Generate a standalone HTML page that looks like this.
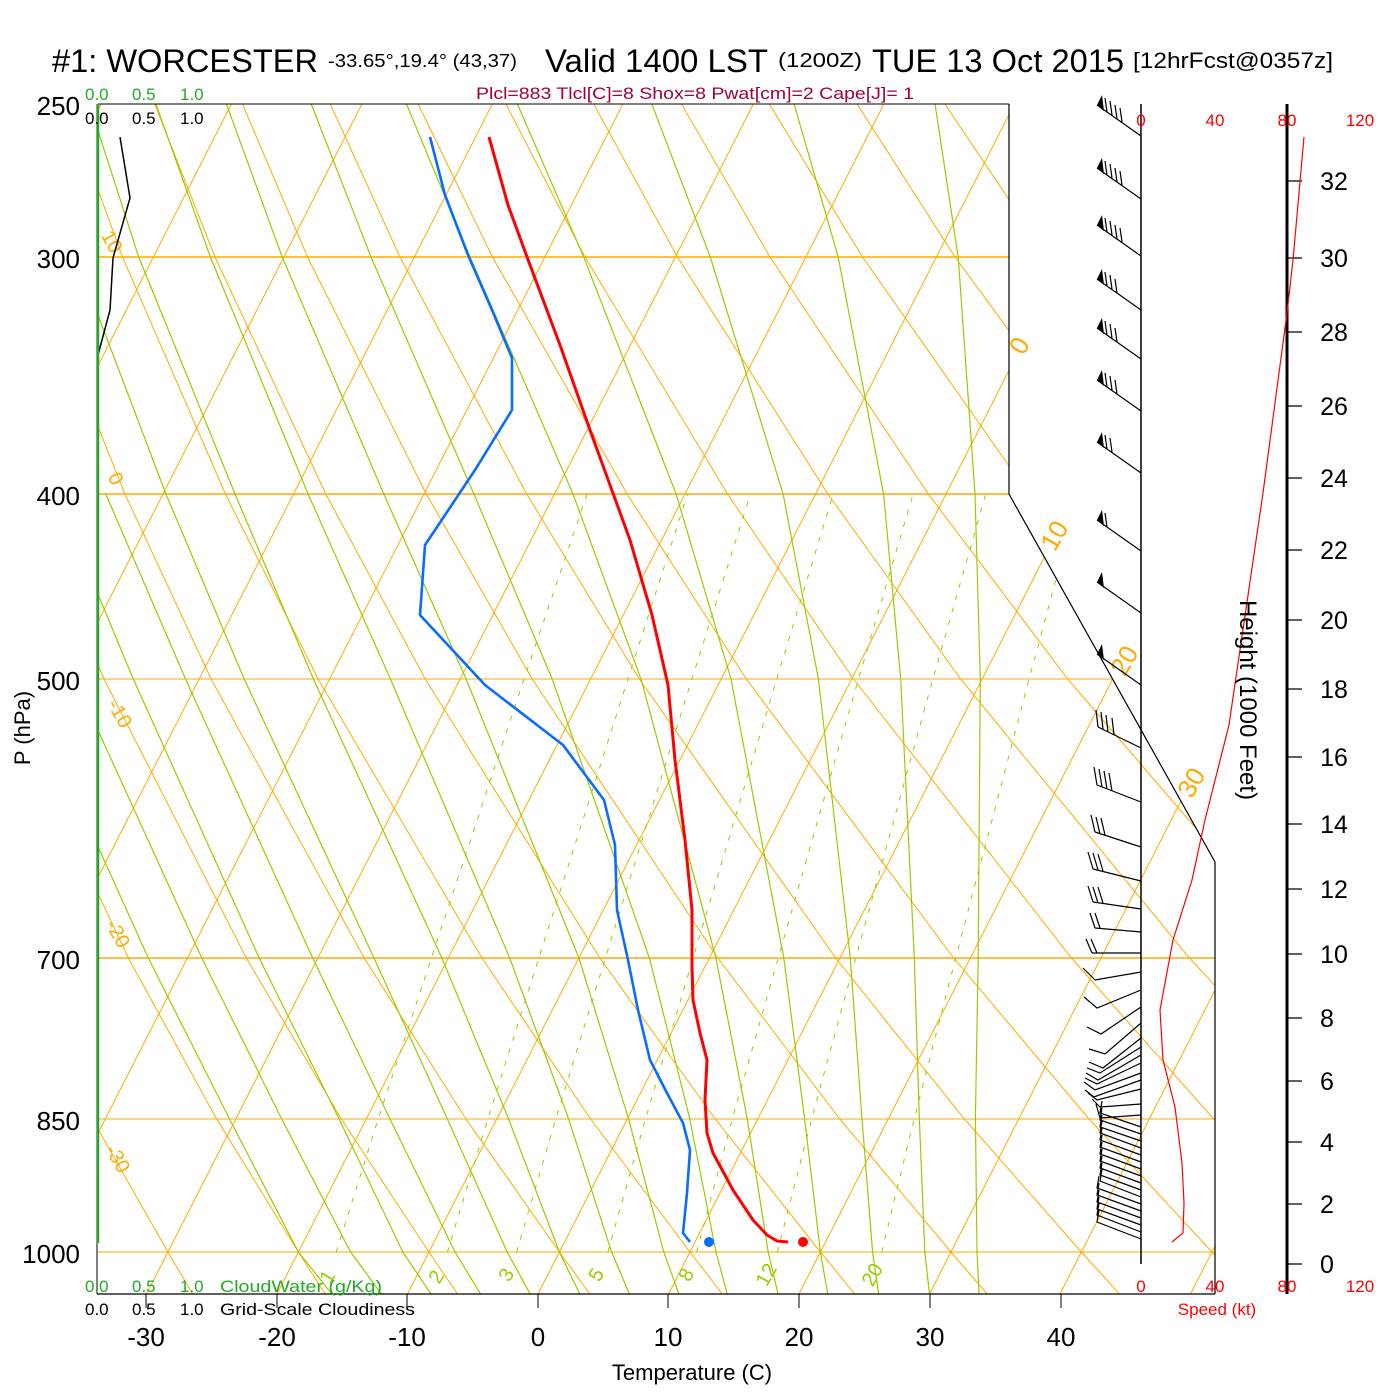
<!DOCTYPE html>
<html><head><meta charset="utf-8"><style>
html,body{margin:0;padding:0;background:#fff;width:1400px;height:1400px;overflow:hidden}
svg text{font-family:"Liberation Sans",sans-serif}
</style></head><body>
<svg width="1400" height="1400" viewBox="0 0 1400 1400" xmlns="http://www.w3.org/2000/svg">
<defs><clipPath id="cp"><polygon points="98,104 1009,104 1009,494 1215,862 1215,1294 98,1294"/></clipPath>
<clipPath id="cg"><rect x="98" y="104" width="911" height="1190"/></clipPath></defs>
<g clip-path="url(#cp)" fill="none" stroke="#ffaa00" stroke-width="1">
<line x1="98" y1="257" x2="1215" y2="257" stroke-width="1.6"/>
<line x1="98" y1="494" x2="1215" y2="494" stroke-width="1.6"/>
<line x1="98" y1="958" x2="1215" y2="958" stroke-width="1.6"/>
<line x1="98" y1="679" x2="1215" y2="679"/>
<line x1="98" y1="1119" x2="1215" y2="1119"/>
<line x1="98" y1="1252" x2="1215" y2="1252"/>
<line x1="-506" y1="1294" x2="101" y2="104"/>
<line x1="-375.5" y1="1294" x2="231.4" y2="104"/>
<line x1="-245" y1="1294" x2="361.9" y2="104"/>
<line x1="-114.5" y1="1294" x2="492.4" y2="104"/>
<line x1="16" y1="1294" x2="622.9" y2="104"/>
<line x1="146.5" y1="1294" x2="753.4" y2="104"/>
<line x1="277" y1="1294" x2="883.9" y2="104"/>
<line x1="407.5" y1="1294" x2="1014.4" y2="104"/>
<line x1="538" y1="1294" x2="1144.9" y2="104"/>
<line x1="668.5" y1="1294" x2="1275.4" y2="104"/>
<line x1="799" y1="1294" x2="1405.9" y2="104"/>
<line x1="929.5" y1="1294" x2="1536.4" y2="104"/>
<line x1="1060" y1="1294" x2="1666.9" y2="104"/>
<line x1="1190.5" y1="1294" x2="1797.4" y2="104"/>
<polyline points="192.7,1294 167.9,1252 91.6,1118 10.6,958"/>
<polyline points="325.1,1294 298.4,1252 216.1,1118 128.4,958 -3,679"/>
<polyline points="457.5,1294 428.9,1252 340.7,1118 246.3,958 104,679 24.5,494"/>
<polyline points="589.9,1294 559.4,1252 465.3,1118 364.2,958 211.1,679 125,494 30,257"/>
<polyline points="722.3,1294 689.9,1252 589.9,1118 482,958 318.1,679 225.4,494 122.5,257 66.9,104"/>
<polyline points="854.7,1294 820.4,1252 714.5,1118 599.9,958 425.2,679 325.8,494 215,257 154.7,104"/>
<polyline points="987.1,1294 950.9,1252 839,1118 717.8,958 532.2,679 426.3,494 307.5,257 242.5,104"/>
<polyline points="1119.5,1294 1081.4,1252 963.6,1118 835.7,958 639.3,679 526.7,494 400,257 330.3,104"/>
<polyline points="1251.9,1294 1211.9,1252 1088.2,1118 953.6,958 746.4,679 627.1,494 492.5,257 418.1,104"/>
<polyline points="1384.3,1294 1342.4,1252 1212.8,1118 1071.5,958 853.5,679 727.5,494 585,257 505.9,104"/>
<polyline points="1516.7,1294 1472.9,1252 1337.4,1118 1189.4,958 960.6,679 827.9,494 677.5,257 593.7,104"/>
<polyline points="1462,1118 1307.3,958 1067.7,679 928.3,494 770,257 681.5,104"/>
<polyline points="1586.6,1118 1425.2,958 1174.8,679 1028.7,494 862.5,257 769.3,104"/>
<polyline points="1543.1,958 1281.9,679 1129.1,494 955,257 857.1,104"/>
<polyline points="1661,958 1389,679 1229.5,494 1047.5,257 944.9,104"/>
<polyline points="1496.1,679 1329.9,494 1140,257 1032.7,104"/>
</g>
<g clip-path="url(#cg)" fill="none" stroke="#99cc00" stroke-width="1.2">
<polyline points="979.1,1294 977,1252 975.4,1118 978.2,958 980.3,679 975,494 958.2,257 935,104"/>
<polyline points="929.5,1294 924.8,1252 919.3,1118 914.3,958 900.7,679 883.6,494 838.2,257 794.1,104"/>
<polyline points="878.6,1294 872.6,1252 861.9,1118 850.3,958 818.4,679 783.1,494 710.3,257 651.8,104"/>
<polyline points="827.7,1294 820.4,1252 804.5,1118 783.8,958 731,679 676.1,494 583.7,257 517.4,104"/>
<polyline points="778.1,1294 768.2,1252 747.1,1118 715.9,958 641,679 573,494 470.1,257 406.5,104"/>
<polyline points="727.2,1294 716,1252 689.6,1118 649.4,958 552.2,679 473.9,494 371,257 311.2,104"/>
<polyline points="678.9,1294 663.8,1252 628.3,1118 578.9,958 466.1,679 383.8,494 282.2,257 226.4,104"/>
<polyline points="629.4,1294 611.6,1252 568.3,1118 509.7,958 390.4,679 308.1,494 210.4,257 155.9,104"/>
<polyline points="579.8,1294 559.4,1252 508.2,1118 441.9,958 313.4,679 235,494 138.7,257 89.4,104"/>
<polyline points="530.2,1294 507.2,1252 446.9,1118 374,958 244.2,679 165.9,494 76,257"/>
<polyline points="480.6,1294 455,1252 389.5,1118 312.7,958 185.5,679 105.8,494"/>
<polyline points="431,1294 402.8,1252 338.6,1118 259.2,958 133.3,679 56.2,494"/>
<polyline points="381.4,1294 350.6,1252 281.2,1118 201.8,958 74.6,679"/>
<polyline points="331.8,1294 298.4,1252 229,1118 148.3,958 22.4,679"/>
</g>
<g clip-path="url(#cp)" fill="none" stroke="#99cc00" stroke-width="1" stroke-dasharray="5,8">
<polyline points="336.2,1252 378.5,1118 431.4,958 524,679 587.1,494"/>
<polyline points="447.4,1252 488.1,1118 538.8,958 627.9,679 687.6,494"/>
<polyline points="516.6,1252 556,1118 605.4,958 691.9,679 750.5,494"/>
<polyline points="607.8,1252 645.8,1118 693.1,958 776.7,679 833.2,494"/>
<polyline points="696.6,1252 732.6,1118 778.2,958 858.5,679 913.1,494"/>
<polyline points="777.3,1252 811.9,1118 855.7,958 932.9,679 985.7,494"/>
<polyline points="881.7,1252 914.4,1118 955.7,958 1029.1,679 1079.1,494"/>
</g>
<g font-size="20" fill="#99cc00" text-anchor="middle">
<text transform="translate(333,1280) rotate(-60)">1</text>
<text transform="translate(442,1280) rotate(-60)">2</text>
<text transform="translate(512,1278) rotate(-60)">3</text>
<text transform="translate(602,1278) rotate(-60)">5</text>
<text transform="translate(692,1278) rotate(-60)">8</text>
<text transform="translate(772,1278) rotate(-60)">12</text>
<text transform="translate(878,1278) rotate(-60)">20</text>
</g>
<g font-size="26" fill="#ffaa00" text-anchor="middle">
<text transform="translate(1027,350) rotate(-60)">0</text>
<text transform="translate(1062,540) rotate(-60)">10</text>
<text transform="translate(1132,665) rotate(-60)">20</text>
<text transform="translate(1199,787) rotate(-60)">30</text>
</g>
<g font-size="20" fill="#ffaa00" text-anchor="middle">
<text transform="translate(106,245) rotate(60)">10</text>
<text transform="translate(110,482) rotate(60)">0</text>
<text transform="translate(114,717) rotate(60)">-10</text>
<text transform="translate(112,937) rotate(60)">-20</text>
<text transform="translate(112,1162) rotate(60)">-30</text>
</g>
<g stroke="#000" fill="none">
<line x1="98" y1="104" x2="1009" y2="104" stroke-width="1"/>
<polyline points="1009,104 1009,494 1215,862 1215,1294" stroke-width="1.2"/>
<line x1="97" y1="104" x2="97" y2="1294" stroke-width="1"/>
<line x1="97" y1="1294" x2="1215" y2="1294" stroke-width="1.2"/>
<path d="M146,1294V1308M277,1294V1308M407,1294V1308M538,1294V1308M668,1294V1308M799,1294V1308M930,1294V1308M1061,1294V1308"/>
<polyline points="120,137 130,198 113,258 110,310 98,355" stroke-width="1.5"/>
</g>
<line x1="98" y1="104" x2="98" y2="1243" stroke="#22aa22" stroke-width="2.5"/>
<polyline points="430,137 445,195 468,255 492,310 512,358 512,410 475,470 425,545 420,615 485,685 563,745 604,800 615,845 617,910 628,960 638,1010 650,1060 667,1093 683,1123 690,1150 687,1193 683,1233 690,1242" fill="none" stroke="#0a6cff" stroke-width="2.6" stroke-linejoin="round"/>
<circle cx="709" cy="1242" r="5" fill="#0a6cff"/>
<polyline points="489,137 508,205 530,265 560,345 590,430 630,540 652,615 668,685 675,760 685,840 692,910 692,967 693,1000 700,1033 707,1060 705,1100 707,1133 713,1153 733,1190 753,1220 767,1235 777,1241 788,1242" fill="none" stroke="#ff0000" stroke-width="3" stroke-linejoin="round"/>
<circle cx="803" cy="1242" r="5" fill="#ff0000"/>
<line x1="1141" y1="104" x2="1141" y2="1264" stroke="#000" stroke-width="1.5"/>
<line x1="1287" y1="104" x2="1287" y2="1294" stroke="#000" stroke-width="3"/>
<path stroke="#000" stroke-width="1.2" d="M1287,181H1302M1287,258H1302M1287,332H1302M1287,406H1302M1287,478H1302M1287,550H1302M1287,620H1302M1287,689H1302M1287,757H1302M1287,824H1302M1287,889H1302M1287,954H1302M1287,1018H1302M1287,1081H1302M1287,1142H1302M1287,1204H1302M1287,1264H1302"/>
<polyline points="1304,137 1293,260 1287,313 1263,493 1229,725 1205,820 1192,880 1173,940 1160,1010 1163,1060 1175,1107 1182,1163 1184,1203 1183,1233 1172,1242" fill="none" stroke="#ff0000" stroke-width="1.2"/>
<g stroke="#000" stroke-width="1.2" fill="none">
<path d="M1141,136L1097,105M1107,112L1105,98M1112,115L1110,101M1117,119L1115,105M1122,122L1120,108"/>
<path d="M1141,199L1097,168M1107,175L1105,161M1112,178L1110,164M1117,182L1115,168M1122,185L1120,171"/>
<path d="M1141,256L1097,225M1107,232L1105,218M1112,235L1110,221M1117,239L1115,225M1122,242L1120,228"/>
<path d="M1141,310L1097,279M1107,286L1105,272M1112,289L1110,275M1117,293L1115,279"/>
<path d="M1141,359L1097,328M1107,335L1105,321M1112,338L1110,324M1117,342L1115,328"/>
<path d="M1141,411L1097,380M1107,387L1105,373M1112,390L1110,376M1117,394L1115,380"/>
<path d="M1141,473L1097,442M1107,449L1105,435M1112,452L1110,438"/>
<path d="M1141,551L1097,520M1107,527L1105,513"/>
<path d="M1141,613L1097,582"/>
<path d="M1141,685L1097,654"/>
<path d="M1141,748L1098,727M1098,727L1096,710M1103,729L1101,712M1108,732L1106,715M1114,735L1112,718"/>
<path d="M1141,802L1097,785M1097,785L1094,767M1102,787L1099,769M1107,789L1104,771M1112,791L1109,773"/>
<path d="M1141,847L1095,832M1095,832L1091,815M1100,834L1096,817M1105,835L1101,818"/>
<path d="M1141,881L1093,869M1093,869L1088,852M1098,870L1093,853M1103,871L1098,854"/>
<path d="M1141,909L1093,902M1093,902L1088,886M1098,903L1093,887M1103,903L1098,887"/>
<path d="M1141,932L1095,928M1095,928L1090,913M1100,928L1095,913"/>
<path d="M1141,953L1092,953M1092,953L1086,939M1097,953L1091,939"/>
<path d="M1141,972L1095,980L1083,968M1141,990L1097,1008L1084,997M1141,1007L1101,1034L1087,1027M1141,1023L1105,1054L1089,1049M1141,1038L1103,1068L1089,1062M1141,1047L1100,1073L1087,1068M1141,1055L1098,1080L1086,1073M1141,1063L1097,1084L1085,1078M1141,1073L1095,1090L1084,1082M1141,1080L1094,1097L1085,1090M1141,1089L1097,1100L1088,1093M1141,1104L1100,1107L1092,1099M1141,1115L1100,1118L1096,1104"/>
<path d="M1141,1127L1100,1113L1102,1101M1141,1134L1100,1120L1102,1108M1141,1141L1100,1127L1102,1115M1141,1148L1100,1133L1102,1121M1141,1155L1100,1140L1102,1128M1141,1162L1100,1147L1102,1135M1141,1169L1100,1154L1102,1142M1141,1176L1100,1161L1102,1149M1141,1183L1100,1168L1102,1156M1141,1190L1100,1175L1102,1163M1141,1197L1100,1181L1102,1169M1141,1204L1097,1188L1099,1176M1141,1211L1097,1195L1099,1183M1141,1218L1097,1202L1099,1190M1141,1225L1097,1209L1099,1197M1141,1232L1097,1215L1099,1203M1141,1239L1097,1222L1099,1210"/>
</g>
<path fill="#000" d="M1097,105l5,-10l2,16zM1097,168l5,-10l2,16zM1097,225l5,-10l2,16zM1097,279l5,-10l2,16zM1097,328l5,-10l2,16zM1097,380l5,-10l2,16zM1097,442l5,-10l2,16zM1097,520l5,-10l2,16zM1097,582l5,-10l2,16zM1097,654l5,-10l2,16z"/>
<text x="52" y="72" font-size="32" textLength="266" lengthAdjust="spacingAndGlyphs">#1: WORCESTER</text>
<text x="328" y="67" font-size="18" textLength="189" lengthAdjust="spacingAndGlyphs">-33.65°,19.4° (43,37)</text>
<text x="545" y="72" font-size="32" textLength="223" lengthAdjust="spacingAndGlyphs">Valid 1400 LST</text>
<text x="778" y="67" font-size="20" textLength="84" lengthAdjust="spacingAndGlyphs">(1200Z)</text>
<text x="872" y="72" font-size="32" textLength="252" lengthAdjust="spacingAndGlyphs">TUE 13 Oct 2015</text>
<text x="1133" y="68" font-size="22" textLength="200" lengthAdjust="spacingAndGlyphs">[12hrFcst@0357z]</text>
<text x="476" y="99" font-size="17" fill="#a0003c" textLength="438" lengthAdjust="spacingAndGlyphs">Plcl=883 Tlcl[C]=8 Shox=8 Pwat[cm]=2 Cape[J]= 1</text>
<g font-size="17">
<text x="85" y="100" fill="#22aa22">0.0</text><text x="132" y="100" fill="#22aa22">0.5</text><text x="180" y="100" fill="#22aa22">1.0</text>
<text x="85" y="124">0.0</text><text x="132" y="124">0.5</text><text x="180" y="124">1.0</text>
<text x="85" y="1292" fill="#22aa22">0.0</text><text x="132" y="1292" fill="#22aa22">0.5</text><text x="180" y="1292" fill="#22aa22">1.0</text>
<text x="220" y="1292" fill="#22aa22" textLength="162" lengthAdjust="spacingAndGlyphs">CloudWater (g/Kg)</text>
<text x="85" y="1315">0.0</text><text x="132" y="1315">0.5</text><text x="180" y="1315">1.0</text>
<text x="220" y="1315" textLength="195" lengthAdjust="spacingAndGlyphs">Grid-Scale Cloudiness</text>
</g>
<g font-size="26" text-anchor="end">
<text x="80" y="115">250</text><text x="80" y="268">300</text><text x="80" y="505">400</text><text x="80" y="690">500</text>
<text x="80" y="969">700</text><text x="80" y="1130">850</text><text x="80" y="1263">1000</text>
</g>
<text transform="translate(30,728) rotate(-90)" font-size="22" text-anchor="middle">P (hPa)</text>
<g font-size="26" text-anchor="middle">
<text x="146" y="1346">-30</text><text x="277" y="1346">-20</text><text x="407" y="1346">-10</text><text x="538" y="1346">0</text>
<text x="668" y="1346">10</text><text x="799" y="1346">20</text><text x="930" y="1346">30</text><text x="1061" y="1346">40</text>
</g>
<text x="692" y="1380" font-size="22" text-anchor="middle">Temperature (C)</text>
<g font-size="17" fill="#ff0000" text-anchor="middle">
<text x="1141" y="126">0</text><text x="1215" y="126">40</text><text x="1287" y="126">80</text><text x="1360" y="126">120</text>
<text x="1141" y="1292">0</text><text x="1215" y="1292">40</text><text x="1287" y="1292">80</text><text x="1360" y="1292">120</text>
<text x="1217" y="1315">Speed (kt)</text>
</g>
<text transform="translate(1240,700) rotate(90)" font-size="24" text-anchor="middle">Height (1000 Feet)</text>
<g font-size="25" text-anchor="middle">
<text x="1334" y="190">32</text><text x="1334" y="267">30</text><text x="1334" y="341">28</text><text x="1334" y="415">26</text>
<text x="1334" y="487">24</text><text x="1334" y="559">22</text><text x="1334" y="629">20</text><text x="1334" y="698">18</text>
<text x="1334" y="766">16</text><text x="1334" y="833">14</text><text x="1334" y="898">12</text><text x="1334" y="963">10</text>
<text x="1327" y="1027">8</text><text x="1327" y="1090">6</text><text x="1327" y="1151">4</text><text x="1327" y="1213">2</text><text x="1327" y="1273">0</text>
</g>
</svg>
</body></html>
